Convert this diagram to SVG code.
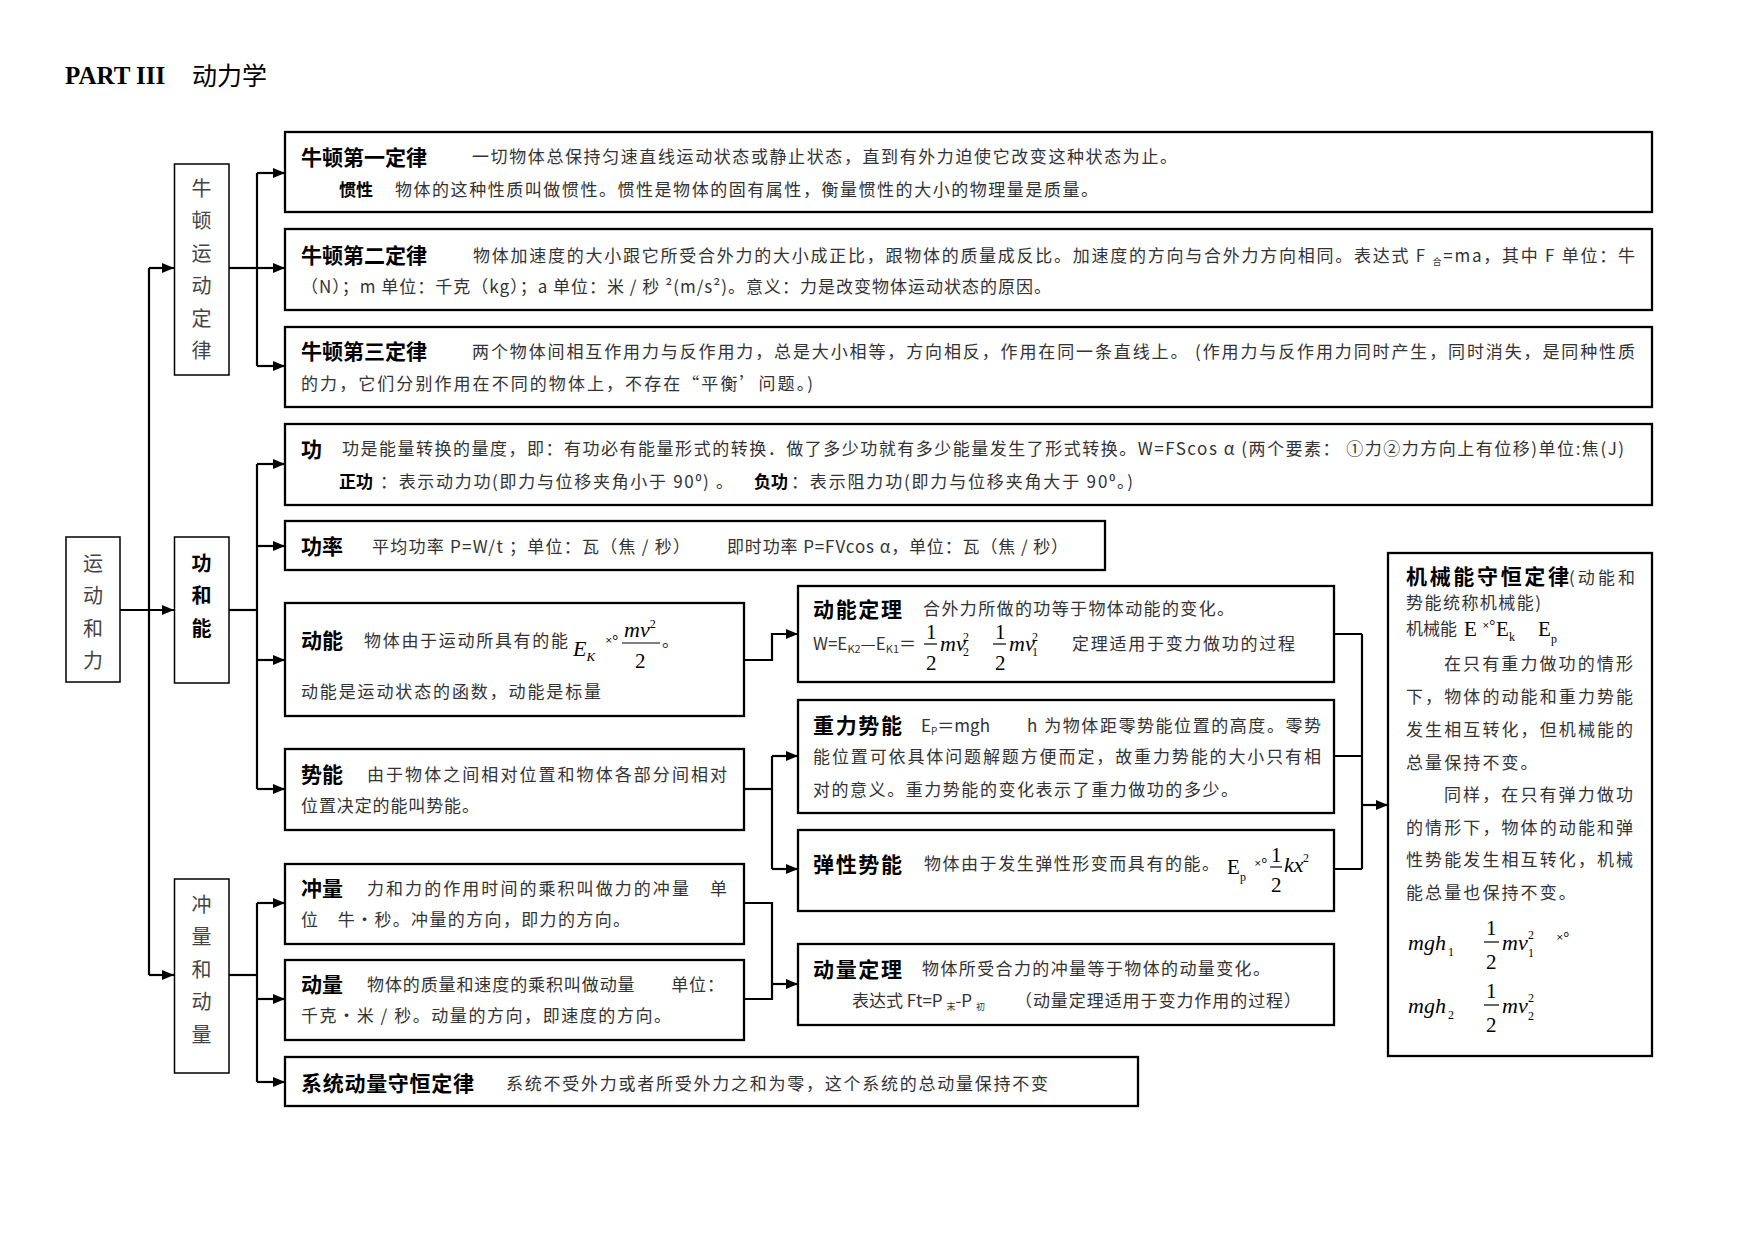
<svg xmlns="http://www.w3.org/2000/svg" width="1754" height="1241" viewBox="0 0 1754 1241">
<defs>
<marker id="ah" markerUnits="userSpaceOnUse" markerWidth="12" markerHeight="10" refX="12" refY="5" orient="auto"><path d="M0,0 L12,5 L0,10 z" fill="#000"/></marker>
<style>
.box{fill:#fff;stroke:#000;stroke-width:2.3}
.lbl{fill:#fff;stroke:#000;stroke-width:1.5}
.h{font-family:"Noto Sans CJK SC","Noto Sans",sans-serif;font-weight:bold;font-size:21px;fill:#000}
.hs{font-family:"Noto Sans CJK SC","Noto Sans",sans-serif;font-weight:bold;font-size:17px;fill:#000}
.t{font-family:"Noto Sans CJK SC","Noto Sans",sans-serif;font-size:17px;fill:#333}
.p{font-family:"Noto Sans CJK SC","Noto Sans",sans-serif;font-size:17px;fill:#333;letter-spacing:2.1px}
.v{font-family:"Noto Sans CJK SC",sans-serif;font-size:20px;fill:#444;text-anchor:middle}
.vb{font-family:"Noto Sans CJK SC",sans-serif;font-size:20px;font-weight:bold;fill:#000;text-anchor:middle}
.m{font-family:"Liberation Serif",serif;font-style:italic;font-size:22px;fill:#000}
.n{font-family:"Liberation Serif",serif;font-size:21px;fill:#000}
.sm{font-family:"Liberation Serif",serif;font-size:12px;fill:#000}
.odd{font-family:"DejaVu Sans",sans-serif;font-size:9px;fill:#000}
.conn path{stroke:#000;stroke-width:2.2;fill:none}
.fr{stroke:#000;stroke-width:1.2}
</style>
</defs>
<rect width="1754" height="1241" fill="#fff"/>

<g id="title">
<text x="65" y="84" font-family="Liberation Serif,serif" font-weight="bold" font-size="25" fill="#000">PART III</text>
<text x="192" y="85" font-family="Noto Sans CJK SC,sans-serif" font-size="25" fill="#000">动力学</text>
</g>

<g class="conn">
<path d="M120,610 H174" marker-end="url(#ah)"/>
<path d="M149,268 V975"/>
<path d="M149,268 H174" marker-end="url(#ah)"/>
<path d="M149,975 H174" marker-end="url(#ah)"/>
<path d="M229,268 H257"/>
<path d="M257,173 V366"/>
<path d="M257,173 H285" marker-end="url(#ah)"/>
<path d="M257,268 H285" marker-end="url(#ah)"/>
<path d="M257,366 H285" marker-end="url(#ah)"/>
<path d="M229,610 H257"/>
<path d="M257,464 V789"/>
<path d="M257,464 H285" marker-end="url(#ah)"/>
<path d="M257,546 H285" marker-end="url(#ah)"/>
<path d="M257,660 H285" marker-end="url(#ah)"/>
<path d="M257,789 H285" marker-end="url(#ah)"/>
<path d="M229,975 H257"/>
<path d="M257,903 V1082"/>
<path d="M257,903 H285" marker-end="url(#ah)"/>
<path d="M257,999 H285" marker-end="url(#ah)"/>
<path d="M257,1082 H285" marker-end="url(#ah)"/>
<path d="M744,660 H772 V634 H798" marker-end="url(#ah)"/>
<path d="M744,789 H772"/>
<path d="M772,756 V869"/>
<path d="M772,756 H798" marker-end="url(#ah)"/>
<path d="M772,869 H798" marker-end="url(#ah)"/>
<path d="M744,903 H772 V999 H744"/>
<path d="M772,984 H798" marker-end="url(#ah)"/>
<path d="M1334,634 H1362 M1334,756 H1362 M1334,869 H1362 M1362,634 V869"/>
<path d="M1362,805 H1388" marker-end="url(#ah)"/>
</g>

<g id="yundong-he-li">
<rect class="lbl" x="66" y="537" width="54" height="145"/>
<text class="v" x="93" y="571">运</text>
<text class="v" x="93" y="603">动</text>
<text class="v" x="93" y="636">和</text>
<text class="v" x="93" y="668">力</text>
</g>

<g id="niudun-yundong-dinglv">
<rect class="lbl" x="174.5" y="164" width="54.5" height="211"/>
<text class="v" x="201.5" y="196">牛</text>
<text class="v" x="201.5" y="228">顿</text>
<text class="v" x="201.5" y="261">运</text>
<text class="v" x="201.5" y="293">动</text>
<text class="v" x="201.5" y="326">定</text>
<text class="v" x="201.5" y="358">律</text>
</g>

<g id="gong-he-neng">
<rect class="lbl" x="174.5" y="537" width="54.5" height="146"/>
<text class="vb" x="201.5" y="571">功</text>
<text class="vb" x="201.5" y="603">和</text>
<text class="vb" x="201.5" y="636">能</text>
</g>

<g id="chongliang-he-dongliang">
<rect class="lbl" x="174.5" y="879" width="54.5" height="194"/>
<text class="v" x="201.5" y="912">冲</text>
<text class="v" x="201.5" y="944">量</text>
<text class="v" x="201.5" y="977">和</text>
<text class="v" x="201.5" y="1009">动</text>
<text class="v" x="201.5" y="1042">量</text>
</g>

<g id="first-law">
<rect class="box" x="285" y="132" width="1367" height="80"/>
<text class="h" x="301" y="164.5">牛顿第一定律</text>
<text class="t" x="472" y="163" textLength="705">一切物体总保持匀速直线运动状态或静止状态，直到有外力迫使它改变这种状态为止。</text>
<text class="hs" x="339" y="195.5" font-size="18">惯性</text>
<text class="t" x="395" y="195.5" textLength="703">物体的这种性质叫做惯性。惯性是物体的固有属性，衡量惯性的大小的物理量是质量。</text>
</g>

<g id="second-law">
<rect class="box" x="285" y="229" width="1367" height="81"/>
<text class="h" x="301" y="263">牛顿第二定律</text>
<text class="t" x="473" y="261.5" textLength="1162">物体加速度的大小跟它所受合外力的大小成正比，跟物体的质量成反比。加速度的方向与合外力方向相同。表达式 F <tspan font-size="9" dy="3">合</tspan><tspan dy="-3">=ma，其中 F 单位：牛</tspan></text>
<text class="t" x="301" y="293" textLength="750">（N）；m 单位：千克（kg）；a 单位：米 / 秒 ²(m/s²)。意义：力是改变物体运动状态的原因。</text>
</g>

<g id="third-law">
<rect class="box" x="285" y="327" width="1367" height="80"/>
<text class="h" x="301" y="359">牛顿第三定律</text>
<text class="t" x="472" y="357.7" textLength="1163">两个物体间相互作用力与反作用力，总是大小相等，方向相反，作用在同一条直线上。 (作用力与反作用力同时产生，同时消失，是同种性质</text>
<text class="t" x="301" y="390" textLength="512">的力，它们分别作用在不同的物体上，不存在“平衡’问题。)</text>
</g>

<g id="gong">
<rect class="box" x="285" y="424" width="1367" height="81"/>
<text class="h" x="301" y="456.5">功</text>
<text class="t" x="342" y="455" textLength="1282">功是能量转换的量度，即：有功必有能量形式的转换．做了多少功就有多少能量发生了形式转换。W=FScos α  (两个要素： ①力②力方向上有位移)单位:焦(J)</text>
<text class="hs" x="339" y="487.5">正功</text>
<text class="t" x="380" y="487.5" textLength="353">：表示动力功(即力与位移夹角小于 90⁰) 。</text>
<text class="hs" x="754" y="487.5">负功</text>
<text class="t" x="791" y="487.5" textLength="342">：表示阻力功(即力与位移夹角大于 90⁰。)</text>
</g>

<g id="gonglv">
<rect class="box" x="285" y="521" width="820" height="49"/>
<text class="h" x="301" y="554">功率</text>
<text class="t" x="372" y="552.5" textLength="318">平均功率 P=W/t ；单位：瓦（焦 / 秒）</text>
<text class="t" x="727" y="552.5" textLength="341">即时功率 P=FVcos α，单位：瓦（焦 / 秒）</text>
</g>

<g id="dongneng">
<rect class="box" x="285" y="603" width="459" height="113"/>
<text class="h" x="301" y="648">动能</text>
<text class="t" x="364" y="646.5" textLength="204">物体由于运动所具有的能</text>
<text class="m" x="573" y="656">E<tspan font-size="13" dy="5">K</tspan></text>
<text class="odd" x="605" y="643">×<tspan dy="-3">o</tspan></text>
<text class="m" x="624" y="637">mv<tspan font-size="12" font-style="normal" dy="-9">2</tspan></text>
<line class="fr" x1="622" y1="643" x2="660" y2="643"/>
<text class="n" x="635" y="668">2</text>
<text class="t" x="662" y="647">。</text>
<text class="t" x="301" y="697.5" textLength="300">动能是运动状态的函数，动能是标量</text>
</g>

<g id="shineng">
<rect class="box" x="285" y="749" width="459" height="81"/>
<text class="h" x="301" y="782">势能</text>
<text class="t" x="367" y="780.5" textLength="360">由于物体之间相对位置和物体各部分间相对</text>
<text class="t" x="301" y="812" textLength="178">位置决定的能叫势能。</text>
</g>

<g id="chongliang">
<rect class="box" x="285" y="864" width="459" height="80"/>
<text class="h" x="301" y="896">冲量</text>
<text class="t" x="367" y="894.5" textLength="360">力和力的作用时间的乘积叫做力的冲量　单</text>
<text class="t" x="301" y="926" textLength="329">位　牛·秒。冲量的方向，即力的方向。</text>
</g>

<g id="dongliang">
<rect class="box" x="285" y="960" width="459" height="80"/>
<text class="h" x="301" y="992">动量</text>
<text class="t" x="367" y="991" textLength="357">物体的质量和速度的乘积叫做动量　　单位：</text>
<text class="t" x="301" y="1022" textLength="370">千克·米 / 秒。动量的方向，即速度的方向。</text>
</g>

<g id="xitong-dongliang-shouheng">
<rect class="box" x="285" y="1057" width="853" height="49"/>
<text class="h" x="301" y="1091" textLength="173">系统动量守恒定律</text>
<text class="t" x="506" y="1089.5" textLength="542">系统不受外力或者所受外力之和为零，这个系统的总动量保持不变</text>
</g>

<g id="dongneng-dingli">
<rect class="box" x="798" y="586" width="536" height="96"/>
<text class="h" x="813" y="616.5" textLength="89">动能定理</text>
<text class="t" x="923" y="615" textLength="311">合外力所做的功等于物体动能的变化。</text>
<text class="t" x="813" y="650">W=E<tspan font-size="11" dy="3">K2</tspan><tspan dy="-3">—E</tspan><tspan font-size="11" dy="3">K1</tspan><tspan dy="-3">＝</tspan></text>
<text class="n" x="926" y="639" font-size="18">1</text>
<line class="fr" x1="924" y1="644" x2="937" y2="644"/>
<text class="n" x="926" y="670" font-size="19">2</text>
<text class="m" x="940" y="651" font-size="21">mv</text>
<text class="sm" x="963" y="641">2</text>
<text class="sm" x="963" y="656">2</text>
<text class="n" x="995" y="639" font-size="18">1</text>
<line class="fr" x1="993" y1="644" x2="1006" y2="644"/>
<text class="n" x="995" y="670" font-size="19">2</text>
<text class="m" x="1009" y="651" font-size="21">mv</text>
<text class="sm" x="1032" y="641">2</text>
<text class="sm" x="1032" y="656">1</text>
<text class="t" x="1072" y="650" textLength="223">定理适用于变力做功的过程</text>
</g>

<g id="zhongli-shineng">
<rect class="box" x="798" y="700" width="536" height="113"/>
<text class="h" x="813" y="733" textLength="89">重力势能</text>
<text class="t" x="921" y="731.5">E<tspan font-size="10" dy="3">P</tspan><tspan dy="-3">＝mgh</tspan></text>
<text class="t" x="1027" y="731.5" textLength="294">h 为物体距零势能位置的高度。零势</text>
<text class="t" x="813" y="762.7" textLength="508">能位置可依具体问题解题方便而定，故重力势能的大小只有相</text>
<text class="t" x="813" y="796" textLength="425">对的意义。重力势能的变化表示了重力做功的多少。</text>
</g>

<g id="tanxing-shineng">
<rect class="box" x="798" y="830" width="536" height="81"/>
<text class="h" x="813" y="871.5" textLength="89">弹性势能</text>
<text class="t" x="924" y="870" textLength="295">物体由于发生弹性形变而具有的能。</text>
<text class="n" x="1227" y="874" font-size="20">E</text>
<text class="sm" x="1240" y="881">p</text>
<text class="odd" x="1254" y="866">×<tspan dy="-3">o</tspan></text>
<text class="n" x="1271" y="862" font-size="19">1</text>
<line class="fr" x1="1270" y1="867" x2="1282" y2="867"/>
<text class="n" x="1271" y="892" font-size="19">2</text>
<text class="m" x="1284" y="872" font-size="20">kx</text>
<text class="sm" x="1303" y="862">2</text>
</g>

<g id="dongliang-dingli">
<rect class="box" x="798" y="944" width="536" height="81"/>
<text class="h" x="813" y="976.5" textLength="89">动量定理</text>
<text class="t" x="922" y="975" textLength="348">物体所受合力的冲量等于物体的动量变化。</text>
<text class="t" x="852" y="1006.5">表达式 Ft=P <tspan font-size="9" dy="3">末</tspan><tspan dy="-3">-P </tspan><tspan font-size="9" dy="3">初</tspan></text>
<text class="t" x="1015" y="1006.5" textLength="286">（动量定理适用于变力作用的过程）</text>
</g>

<g id="jixieneng-shouheng">
<rect class="box" x="1388" y="553" width="264" height="503"/>
<text class="h" x="1406" y="584" font-size="20" textLength="163">机械能守恒定律</text>
<text class="t" x="1569" y="583.5" textLength="66">(动能和</text>
<text class="t" x="1406" y="608.5" textLength="135">势能统称机械能)</text>
<text class="t" x="1406" y="634.5">机械能</text>
<text class="n" x="1464" y="636" font-size="19">E</text>
<text class="odd" x="1482" y="628">×<tspan dy="-3">o</tspan></text>
<text class="n" x="1496" y="636" font-size="19">E</text>
<text class="sm" x="1509" y="641" font-size="10">k</text>
<text class="n" x="1538" y="636" font-size="19">E</text>
<text class="sm" x="1551" y="643" font-size="10">p</text>
<text class="p" x="1444" y="669.5">在只有重力做功的情形</text>
<text class="p" x="1406" y="702.5">下，物体的动能和重力势能</text>
<text class="p" x="1406" y="735.5">发生相互转化，但机械能的</text>
<text class="p" x="1406" y="768.5">总量保持不变。</text>
<text class="p" x="1444" y="800.5">同样，在只有弹力做功</text>
<text class="p" x="1406" y="833.5">的情形下，物体的动能和弹</text>
<text class="p" x="1406" y="865.5">性势能发生相互转化，机械</text>
<text class="p" x="1406" y="898.5">能总量也保持不变。</text>
<text class="m" x="1408" y="950" font-size="24">mgh</text>
<text class="sm" x="1448" y="956" font-size="13">1</text>
<text class="n" x="1486" y="935" font-size="22">1</text>
<line class="fr" x1="1484" y1="942" x2="1499" y2="942"/>
<text class="n" x="1486" y="969" font-size="22">2</text>
<text class="m" x="1502" y="950" font-size="24">mv</text>
<text class="sm" x="1528" y="939" font-size="13">2</text>
<text class="sm" x="1528" y="957" font-size="13">1</text>
<text class="odd" x="1556" y="940">×<tspan dy="-3">o</tspan></text>
<text class="m" x="1408" y="1013" font-size="24">mgh</text>
<text class="sm" x="1448" y="1019" font-size="13">2</text>
<text class="n" x="1486" y="998" font-size="22">1</text>
<line class="fr" x1="1484" y1="1005" x2="1499" y2="1005"/>
<text class="n" x="1486" y="1032" font-size="22">2</text>
<text class="m" x="1502" y="1013" font-size="24">mv</text>
<text class="sm" x="1528" y="1002" font-size="13">2</text>
<text class="sm" x="1528" y="1020" font-size="13">2</text>
</g>
</svg>
